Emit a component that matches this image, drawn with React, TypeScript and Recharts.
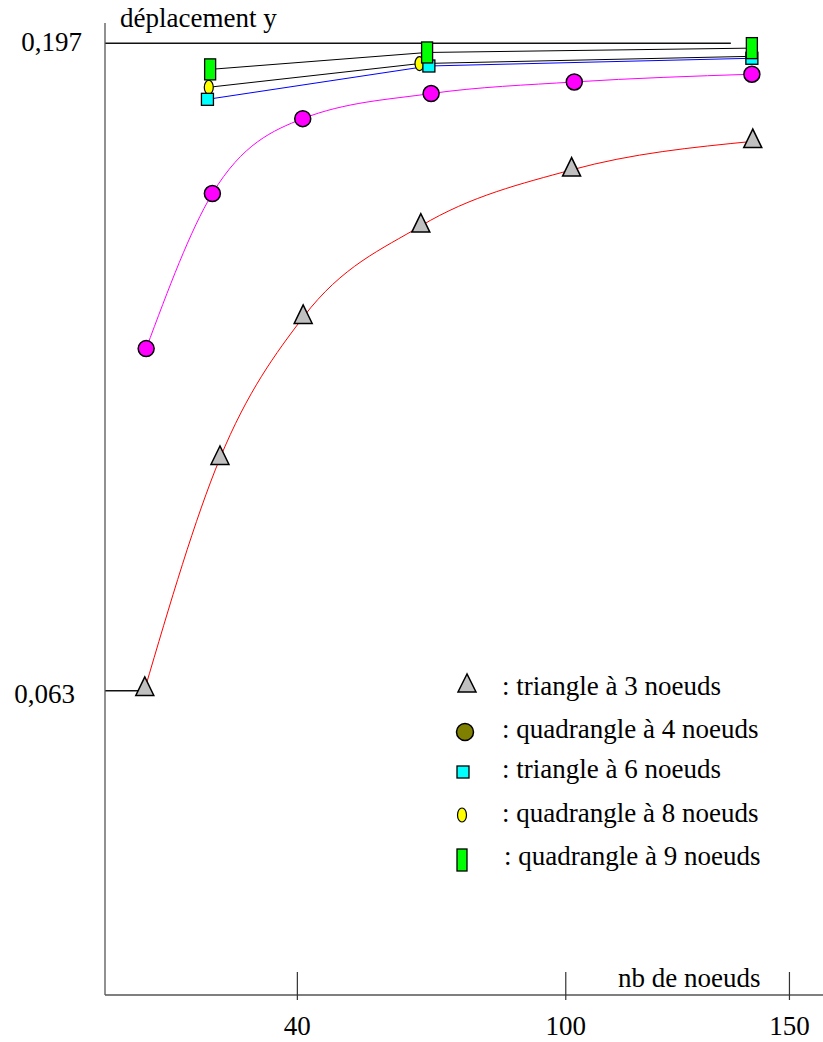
import React from "react";
import { LineChart, Line, XAxis, YAxis, ReferenceLine } from "recharts";

// ---- data ----
const tri3X = [5.9, 22.7, 41.3, 67.6, 101.3, 141.8];
const tri3Y = [0.0633, 0.1111, 0.1403, 0.1592, 0.1708, 0.1767];

const quad4X = [6.2, 21.0, 41.2, 69.9, 101.9, 141.6];
const quad4Y = [0.1338, 0.1659, 0.1814, 0.1866, 0.189, 0.1906];

const tri6X = [19.9, 69.4, 141.6];
const tri6Y = [0.1854, 0.1923, 0.1939];

const quad8X = [20.2, 67.3, 141.4];
const quad8Y = [0.1879, 0.1928, 0.1943];

const quad9X = [20.5, 69.0, 141.6];
const quad9Y = [0.1916, 0.1951, 0.196];

const xTicks = [40, 100, 150];
const yTicks = [0.063, 0.197];

const refTop = 0.197;
const refTopEndX = 136.9;
const refLow = 0.063;

const legendLabels = [
  ": triangle à 3 noeuds",
  ": quadrangle à 4 noeuds",
  ": triangle à 6 noeuds",
  ": quadrangle à 8 noeuds",
  ": quadrangle à 9 noeuds",
];

const build = (xs: number[], ys: number[]) => xs.map((x, i) => ({ x, y: ys[i] }));

const tri3 = build(tri3X, tri3Y);
const quad4 = build(quad4X, quad4Y);
const tri6 = build(tri6X, tri6Y);
const quad8 = build(quad8X, quad8Y);
const quad9 = build(quad9X, quad9Y);

const FONT = "'Liberation Serif', 'Times New Roman', serif";
const FS = 27;
const X_MIN = -3;
const X_MAX = 157.5;

// ---- marker shapes ----
const TriShape = ({ cx, cy }: { cx: number; cy: number }) => (
  <polygon
    points={`${cx},${cy - 12.3} ${cx - 9},${cy + 6.2} ${cx + 9},${cy + 6.2}`}
    fill="#c0c0c0"
    stroke="#000"
    strokeWidth={1.5}
    strokeLinejoin="miter"
  />
);
const CircleShape = ({ cx, cy, fill }: { cx: number; cy: number; fill: string }) => (
  <circle cx={cx} cy={cy} r={8} fill={fill} stroke="#000" strokeWidth={1.5} />
);
const SquareShape = ({ cx, cy }: { cx: number; cy: number }) => (
  <rect x={cx - 6} y={cy - 6} width={12} height={12} fill="#00ffff" stroke="#000" strokeWidth={1.3} />
);
const EllipseShape = ({ cx, cy }: { cx: number; cy: number }) => (
  <ellipse cx={cx} cy={cy} rx={4.5} ry={7} fill="#ffff00" stroke="#000" strokeWidth={1.2} />
);
const TallRectShape = ({ cx, cy }: { cx: number; cy: number }) => (
  <rect x={cx - 5.5} y={cy - 10.5} width={11} height={21} fill="#00ff00" stroke="#000" strokeWidth={1.3} />
);

const dotOf = (kind: string) => (p: any) => {
  const k = `${kind}-${p.index}`;
  if (p.cx == null || p.cy == null) return <g key={k} />;
  switch (kind) {
    case "tri":
      return <TriShape key={k} cx={p.cx} cy={p.cy} />;
    case "circ":
      return <CircleShape key={k} cx={p.cx} cy={p.cy} fill="#ff00ff" />;
    case "sq":
      return <SquareShape key={k} cx={p.cx} cy={p.cy} />;
    case "ell":
      return <EllipseShape key={k} cx={p.cx} cy={p.cy} />;
    default:
      return <TallRectShape key={k} cx={p.cx} cy={p.cy} />;
  }
};

// ---- axis ticks ----
const XTick = (props: any) => {
  const { x, y, payload } = props;
  return (
    <g>
      <line x1={x} y1={y - 23} x2={x} y2={y + 5} stroke="#333" strokeWidth={1.2} />
      <text x={x} y={y + 40} textAnchor="middle" fontFamily={FONT} fontSize={FS} fill="#000">
        {String(payload.value)}
      </text>
    </g>
  );
};

const YTick = (props: any) => {
  const { x, y, payload } = props;
  const v = payload.value as number;
  const low = v < 0.1;
  const label = v.toFixed(3).replace(".", ",");
  return (
    <text
      x={x - (low ? 30 : 23)}
      y={y + (low ? 12 : 8)}
      textAnchor="end"
      fontFamily={FONT}
      fontSize={FS}
      fill="#000"
    >
      {label}
    </text>
  );
};

export default function App() {
  return (
    <div style={{ position: "absolute", left: 0, top: 0, width: 823, height: 1042, background: "#fff" }}>
      <LineChart width={823} height={1042} margin={{ top: 23, right: 0, bottom: 0, left: 5 }}>
        <XAxis
          type="number"
          dataKey="x"
          domain={[X_MIN, X_MAX]}
          ticks={xTicks}
          allowDataOverflow
          height={47}
          tickSize={0}
          tickMargin={0}
          tickLine={false}
          axisLine={{ stroke: "#555", strokeWidth: 1.3 }}
          tick={<XTick />}
          interval={0}
        />
        <YAxis
          type="number"
          dataKey="y"
          domain={[0, 0.2012]}
          ticks={yTicks}
          allowDataOverflow
          width={100}
          tickSize={0}
          tickMargin={0}
          tickLine={false}
          axisLine={{ stroke: "#555", strokeWidth: 1.3 }}
          tick={<YTick />}
          interval={0}
        />
        <ReferenceLine
          segment={[
            { x: X_MIN, y: refTop },
            { x: refTopEndX, y: refTop },
          ]}
          stroke="#111"
          strokeWidth={1.5}
        />
        <ReferenceLine
          segment={[
            { x: X_MIN, y: refLow },
            { x: tri3X[0], y: refLow },
          ]}
          stroke="#111"
          strokeWidth={1.5}
        />
        <Line
          data={tri3}
          dataKey="y"
          type="monotone"
          stroke="#ff0000"
          strokeWidth={1}
          dot={dotOf("tri")}
          activeDot={false}
          isAnimationActive={false}
        />
        <Line
          data={quad4}
          dataKey="y"
          type="monotone"
          stroke="#ff00ff"
          strokeWidth={1}
          dot={dotOf("circ")}
          activeDot={false}
          isAnimationActive={false}
        />
        <Line
          data={quad8}
          dataKey="y"
          type="linear"
          stroke="#000"
          strokeWidth={1}
          dot={dotOf("ell")}
          activeDot={false}
          isAnimationActive={false}
        />
        <Line
          data={tri6}
          dataKey="y"
          type="linear"
          stroke="#0000ff"
          strokeWidth={1}
          dot={dotOf("sq")}
          activeDot={false}
          isAnimationActive={false}
        />
        <Line
          data={quad9}
          dataKey="y"
          type="linear"
          stroke="#000"
          strokeWidth={1}
          dot={dotOf("rect")}
          activeDot={false}
          isAnimationActive={false}
        />
      </LineChart>
      <svg
        width={823}
        height={1042}
        style={{ position: "absolute", left: 0, top: 0, pointerEvents: "none" }}
      >
        <text x={120} y={27} fontFamily={FONT} fontSize={FS} fill="#000">
          déplacement y
        </text>
        <text x={618} y={987} fontFamily={FONT} fontSize={FS} fill="#000">
          nb de noeuds
        </text>
        {/* legend */}
        <polygon points="467,674 458,692 476,692" fill="#c0c0c0" stroke="#000" strokeWidth={1.5} />
        <circle cx={465} cy={732} r={8.5} fill="#808000" stroke="#000" strokeWidth={1.5} />
        <rect x={457} y={766} width={12} height={12} fill="#00ffff" stroke="#000" strokeWidth={1.3} />
        <ellipse cx={462} cy={815} rx={4.5} ry={7} fill="#ffff00" stroke="#000" strokeWidth={1.2} />
        <rect x={457} y={849} width={10} height={22} fill="#00ff00" stroke="#000" strokeWidth={1.3} />
        {legendLabels.map((t, i) => (
          <text
            key={t}
            x={i === 4 ? 504 : 502}
            y={[695, 738, 778, 822, 865][i]}
            fontFamily={FONT}
            fontSize={FS}
            fill="#000"
          >
            {t}
          </text>
        ))}
      </svg>
    </div>
  );
}
